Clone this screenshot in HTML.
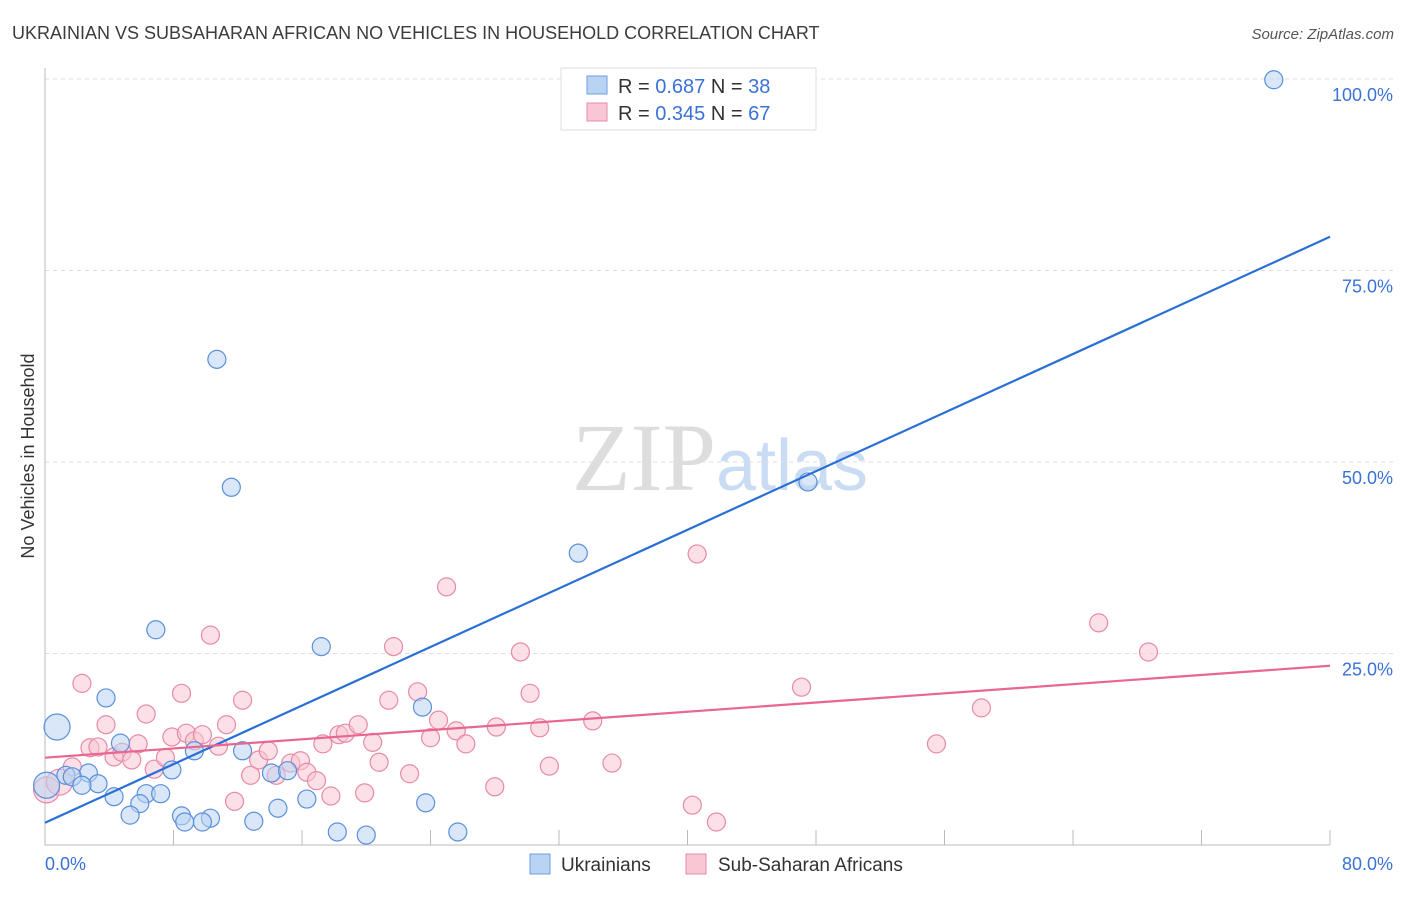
<!DOCTYPE html>
<html><head><meta charset="utf-8"><style>
body{margin:0;background:#fff;font-family:"Liberation Sans",sans-serif;}
</style></head><body>
<svg id="chart" width="1406" height="892" xmlns="http://www.w3.org/2000/svg" font-family="Liberation Sans, sans-serif">
<text x="12" y="39" font-size="18" fill="#3c3c3c">UKRAINIAN VS SUBSAHARAN AFRICAN NO VEHICLES IN HOUSEHOLD CORRELATION CHART</text>
<text x="1394" y="39" font-size="15" fill="#555" text-anchor="end" font-style="italic">Source: ZipAtlas.com</text>
<text transform="translate(34,456) rotate(-90)" font-size="18" fill="#333" text-anchor="middle">No Vehicles in Household</text>
<text x="720" y="490" font-size="96" text-anchor="middle" fill="#ddd" font-family="Liberation Serif, serif">ZIP<tspan fill="#c9dcf3" font-family="Liberation Sans, sans-serif" font-size="72">atlas</tspan></text>
<g id="grid"></g><g id="axes"></g><g id="pts"></g><g id="lines"></g>
<g>
<rect x="561" y="68" width="255" height="62" fill="#fff" stroke="#ddd"/>
<rect x="587" y="76" width="20" height="18" fill="#b9d3f3" stroke="#6d9de0"/>
<text x="618" y="93" font-size="20" fill="#333">R = <tspan fill="#3a72d8">0.687</tspan>   N = <tspan fill="#3a72d8">38</tspan></text>
<rect x="587" y="103" width="20" height="18" fill="#f8c6d4" stroke="#e88aa6"/>
<text x="618" y="120" font-size="20" fill="#333">R = <tspan fill="#3a72d8">0.345</tspan>   N = <tspan fill="#3a72d8">67</tspan></text>
</g>
<g>
<rect x="530" y="854" width="20" height="20" fill="#b9d3f3" stroke="#6d9de0"/>
<text x="561" y="871" font-size="19" fill="#333">Ukrainians</text>
<rect x="686" y="854" width="20" height="20" fill="#f8c6d4" stroke="#e88aa6"/>
<text x="718" y="871" font-size="19" fill="#333">Sub-Saharan Africans</text>
</g>
</svg>
<script>
const yTicks=[25,50,75,100];
const yTickLabels=["25.0%","50.0%","75.0%","100.0%"];
const xTickLabels=["0.0%","80.0%"];
const blueX=[76.5,10.7,11.6,47.5,33.2,6.9,17.2,3.8,23.5,0.75,4.7,9.3,12.3,7.9,2.7,1.3,1.7,3.3,2.3,0.1,14.1,15.1,4.3,6.3,7.2,5.9,16.3,23.7,5.3,8.5,8.7,10.3,9.8,13.0,14.5,18.2,20.0,25.7];
const blueY=[99.9,63.4,46.7,47.4,38.1,28.1,25.9,19.2,18.0,15.4,13.3,12.3,12.3,9.8,9.4,9.1,8.9,8.0,7.8,7.8,9.4,9.7,6.3,6.7,6.7,5.4,6.0,5.5,3.9,3.8,3.0,3.5,3.0,3.1,4.8,1.7,1.3,1.7];
const pinkX=[0.1,0.9,1.7,2.3,2.8,3.3,3.8,4.3,4.8,5.4,5.8,6.3,6.8,7.5,7.9,8.5,8.8,9.3,9.8,10.3,10.8,11.3,11.8,12.3,12.8,13.3,13.9,14.4,15.3,15.9,16.3,16.9,17.3,17.8,18.3,18.7,19.5,19.9,20.4,20.8,21.4,21.7,22.7,23.2,24.0,24.5,25.0,25.6,26.2,28.0,28.1,29.6,30.2,30.8,31.4,34.1,35.3,40.3,40.6,41.8,47.1,55.5,58.3,65.6,68.7];
const pinkY=[7.2,8.2,10.2,21.1,12.7,12.8,15.7,11.5,12.1,11.1,13.2,17.1,9.9,11.4,14.1,19.8,14.6,13.6,14.4,27.4,12.9,15.7,5.7,18.9,9.1,11.1,12.3,9.1,10.7,11.0,9.5,8.4,13.2,6.4,14.4,14.6,15.7,6.8,13.4,10.8,18.9,25.9,9.3,20.0,14.0,16.3,33.7,14.9,13.2,7.6,15.4,25.2,19.8,15.3,10.3,16.2,10.7,5.2,38.0,3.0,20.6,13.2,17.9,29.0,25.2];
const blueLine=[2.9,79.4];
const pinkLine=[11.4,23.4];
const NS="http://www.w3.org/2000/svg";
const sx=v=>45+v/80*1285, sy=v=>845-v/25*191.5;
function mk(p,t,a){const e=document.createElementNS(NS,t);for(const k in a)e.setAttribute(k,a[k]);document.getElementById(p).appendChild(e);return e;}
yTicks.forEach((t,i)=>{
 const l=mk('grid','line',{x1:45,x2:1395,y1:sy(t),y2:sy(t),stroke:'#ddd','stroke-dasharray':'4,4'});
 
 
 const tx=mk('grid','text',{x:1393,y:sy(t)+22,'font-size':18,fill:'#3a72d8','text-anchor':'end'});
 tx.textContent=yTickLabels[i];
 
 
});
const ax=mk('axes','path',{d:'M45,68V845H1330',fill:'none',stroke:'#bbb'});


for(let i=1;i<=10;i++){const x=45+i*128.5;const t=mk('axes','line',{x1:x,x2:x,y1:830,y2:845,stroke:'#bbb'});
 
 }
[[0,'start',45],[1,'end',1393]].forEach(([i,a,x])=>{const t=mk('axes','text',{x:x,y:870,'font-size':18,fill:'#3a72d8','text-anchor':a});t.textContent=xTickLabels[i];
 
 });
function dots(X,Y,fill,stroke,name){X.forEach((x,i)=>{const r=(x<1)?13:9;const c=mk('pts','circle',{cx:sx(x),cy:sy(Y[i]),r:r,fill:fill,'fill-opacity':0.55,stroke:stroke,'stroke-width':1.2});
 
 });}
dots(pinkX,pinkY,'#f8c6d4','#e88aa6','sub-saharan-point');
dots(blueX,blueY,'#b9d3f3','#5a8fdc','ukrainian-point');
const bl=mk('lines','line',{x1:sx(0),y1:sy(blueLine[0]),x2:sx(80),y2:sy(blueLine[1]),stroke:'#2a6fd6','stroke-width':2.2});


const pl=mk('lines','line',{x1:sx(0),y1:sy(pinkLine[0]),x2:sx(80),y2:sy(pinkLine[1]),stroke:'#e8668f','stroke-width':2.2});


</script>
</body></html>
